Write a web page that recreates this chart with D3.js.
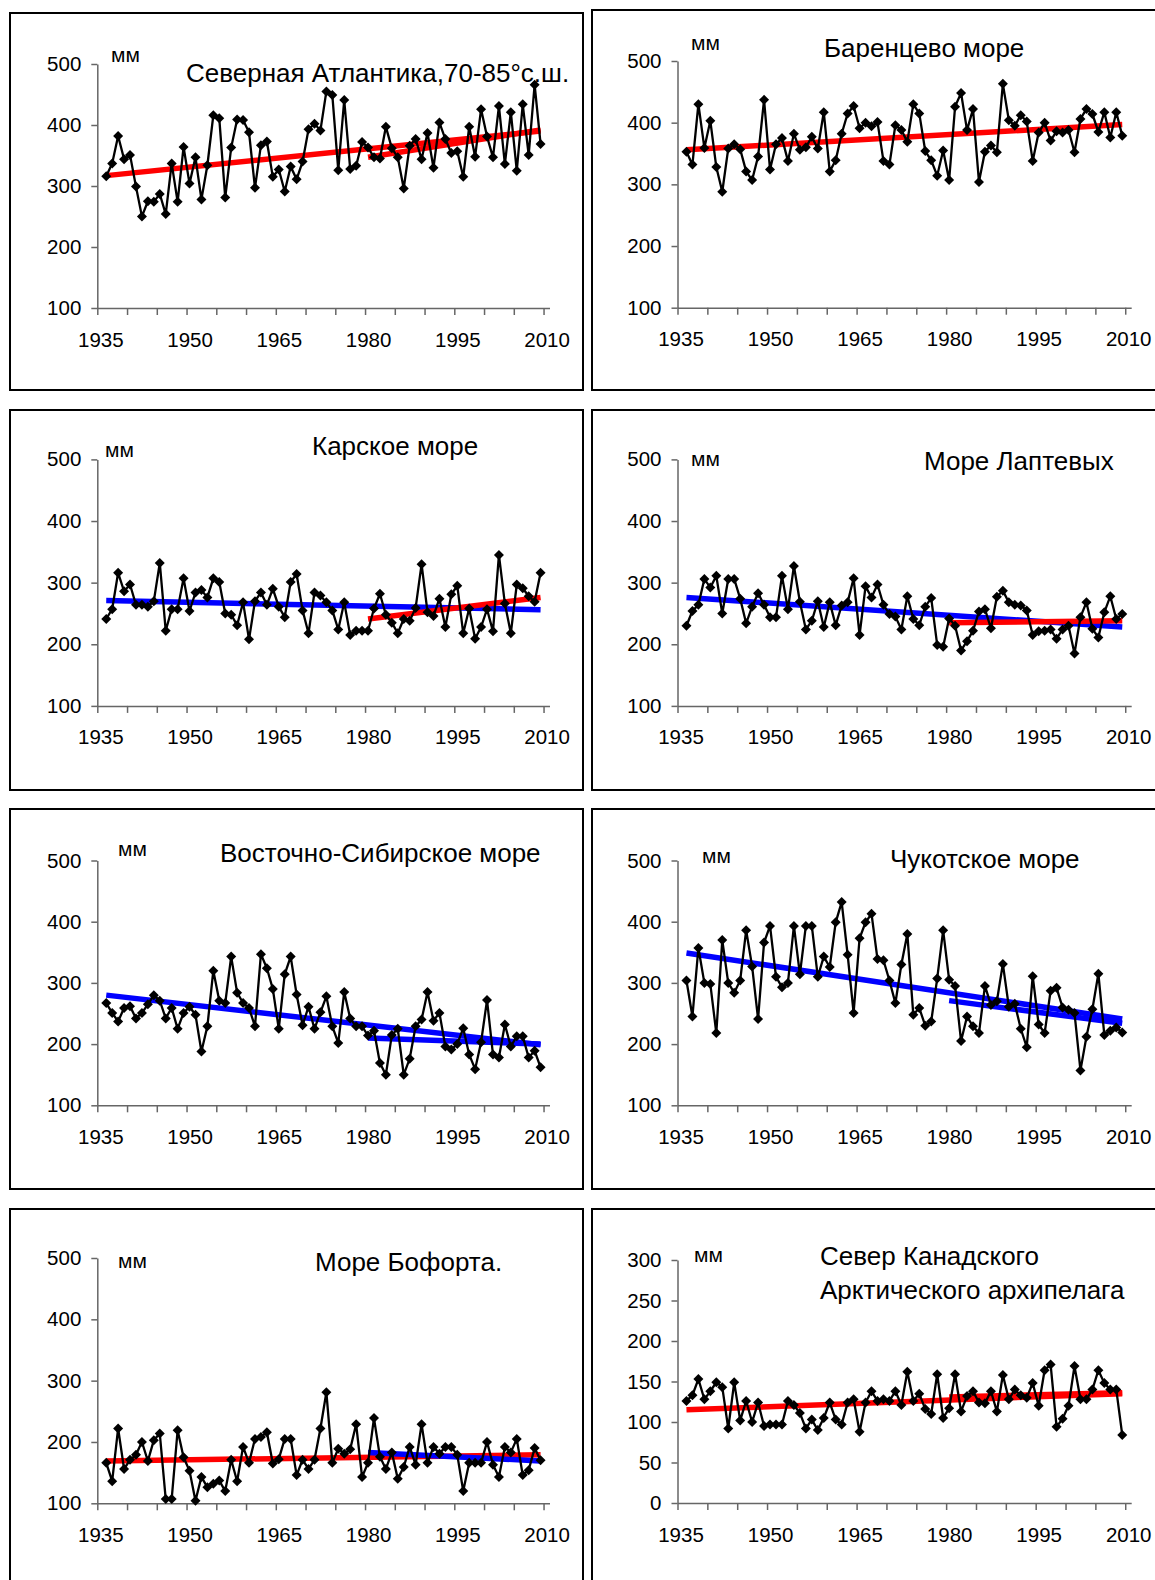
<!DOCTYPE html>
<html>
<head>
<meta charset="utf-8">
<script src="https://cdn.jsdelivr.net/npm/d3@7"></script>
<style>
  body { margin: 0; background: #fff; }
  svg { display: block; font-family: "Liberation Sans", Arial, sans-serif; }
</style>
</head>
<body>
<svg id="chart"></svg>
<script>
const width = 1155;
const height = 1580;

// categories
const years = d3.range(1936, 2010);
const yearLabels = [1935, 1950, 1965, 1980, 1995, 2010];

// series values, mm
const northAtlantic = [316,337,382,344,351,299,250,275,274,287,254,337,274,364,304,347,278,334,416,411,
  281,363,409,408,388,297,367,373,315,327,291,332,311,340,393,402,391,455,449,326,
  441,328,333,372,363,347,345,397,362,347,296,366,377,344,387,330,404,377,354,357,
  315,397,348,426,381,347,431,336,421,325,434,351,466,369];
const barents = [353,332,430,359,403,328,288,358,365,357,321,307,345,437,324,365,375,338,382,356,
  360,377,358,417,321,339,382,415,427,391,400,394,401,338,332,396,388,369,430,415,
  354,339,314,355,307,426,448,388,422,304,353,363,352,463,404,395,412,402,338,384,
  400,371,386,384,388,352,406,422,414,385,417,376,417,379];
const kara = [241,257,316,286,297,264,264,261,270,332,222,257,257,307,254,284,288,276,307,301,
  250,248,231,268,208,270,284,264,290,261,244,301,314,255,218,284,279,268,255,224,
  268,215,222,222,222,258,282,248,235,218,241,238,259,330,252,246,274,228,281,295,
  218,258,209,228,257,221,345,266,218,297,291,278,269,316];
const laptev = [230,254,264,306,292,311,250,306,306,274,234,261,283,264,244,244,311,257,327,269,
  224,238,270,228,268,231,263,268,307,215,294,276,297,264,249,245,224,278,241,231,
  261,275,199,196,242,230,190,205,222,253,257,226,277,287,268,264,263,255,215,221,
  222,224,209,224,230,185,244,268,225,211,252,278,241,249];
const eastSiberian = [267,251,237,259,262,242,251,265,280,271,242,259,225,251,261,248,188,229,320,271,
  267,343,284,267,259,229,347,324,290,225,314,343,281,231,261,225,252,278,229,202,
  285,242,229,229,214,222,169,150,215,225,150,176,229,240,285,238,251,196,191,200,
  226,183,159,203,272,183,178,232,196,213,213,178,189,162];
const chukchi = [304,245,357,300,298,218,370,300,284,304,386,327,241,366,393,310,293,300,393,314,
  393,393,310,343,326,399,432,346,251,373,399,413,339,337,304,267,330,380,248,259,
  230,237,307,386,305,295,205,245,229,218,295,264,270,331,261,266,225,195,311,232,
  218,287,292,260,256,251,157,212,257,315,215,222,227,219];
const beaufort = [166,136,222,156,171,179,200,169,203,214,107,107,219,175,153,104,143,126,132,137,
  120,171,136,192,166,205,208,216,165,172,205,205,146,171,156,171,222,281,166,189,
  181,188,229,143,166,239,176,156,183,140,159,192,163,229,166,192,181,192,192,179,
  120,166,166,166,200,163,143,192,183,205,146,154,190,170];
const canadian = [126,133,153,128,138,149,143,92,149,102,126,100,124,95,97,97,97,126,121,111,
  92,103,90,105,124,103,97,124,128,88,124,138,126,128,126,138,121,162,126,135,
  116,110,159,105,117,159,113,132,138,124,123,138,113,158,128,140,133,130,148,120,
  164,171,94,104,120,169,128,128,140,164,148,140,140,84];

// linear trends: [start year, start value, end year, end value]
const trendNorthAtlantic = [[1936, 317, 2009, 390], [1980, 347, 2009, 392]];
const trendBarents = [[1936, 356, 2009, 397]];
const trendKara = [[1936, 271, 2009, 256], [1980, 241, 2009, 276]];
const trendLaptev = [[1936, 276, 2009, 228], [1980, 235, 2009, 238]];
const trendEastSiberian = [[1936, 280, 2009, 199], [1980, 210, 2009, 200]];
const trendChukchi = [[1936, 349, 2009, 241], [1980, 271, 2009, 234]];
const trendBeaufort = [[1936, 169, 2009, 179], [1980, 183, 2009, 169]];
const trendCanadian = [[1936, 115, 2009, 135], [1980, 131, 2009, 136]];

const titles = [
  ["Северная Атлантика,70-85°с.ш."],
  ["Баренцево море"],
  ["Карское море"],
  ["Море Лаптевых"],
  ["Восточно-Сибирское море"],
  ["Чукотское море"],
  ["Море Бофорта."],
  ["Север Канадского", "Арктического архипелага"]
];
const unitLabel = "мм";

// layout of the eight panels
const L = { x0: 97.3, x1: 549.5, fx0: 10, fx1: 583 };
const R = { x0: 677.5, x1: 1131.2, fx0: 592, fx1: 1170 };
const panels = [
  { col: L, values: northAtlantic, trends: trendNorthAtlantic, yDomain: [100, 500], yStep: 100,
    yTop: 64, yBottom: 308, fy0: 13, fy1: 390, tx: 186, ty: [82], mx: 111, my: 62 },
  { col: R, values: barents, trends: trendBarents, yDomain: [100, 500], yStep: 100,
    yTop: 61, yBottom: 307.7, fy0: 10, fy1: 390, tx: 824, ty: [57], mx: 691, my: 50 },
  { col: L, values: kara, trends: trendKara, yDomain: [100, 500], yStep: 100,
    yTop: 459.4, yBottom: 705.9, fy0: 410, fy1: 790, tx: 312, ty: [455], mx: 105, my: 457 },
  { col: R, values: laptev, trends: trendLaptev, yDomain: [100, 500], yStep: 100,
    yTop: 459.4, yBottom: 705.9, fy0: 410, fy1: 790, tx: 924, ty: [470], mx: 691, my: 466 },
  { col: L, values: eastSiberian, trends: trendEastSiberian, yDomain: [100, 500], yStep: 100,
    yTop: 860.5, yBottom: 1105.3, fy0: 809, fy1: 1189, tx: 220, ty: [862], mx: 118, my: 856 },
  { col: R, values: chukchi, trends: trendChukchi, yDomain: [100, 500], yStep: 100,
    yTop: 860.5, yBottom: 1105.3, fy0: 809, fy1: 1189, tx: 890, ty: [868], mx: 702, my: 863 },
  { col: L, values: beaufort, trends: trendBeaufort, yDomain: [100, 500], yStep: 100,
    yTop: 1258, yBottom: 1503.3, fy0: 1209, fy1: 1600, tx: 315, ty: [1271], mx: 118, my: 1268 },
  { col: R, values: canadian, trends: trendCanadian, yDomain: [0, 300], yStep: 50,
    yTop: 1260, yBottom: 1503, fy0: 1209, fy1: 1600, tx: 820, ty: [1265, 1299], mx: 694, my: 1262 }
];

const svg = d3.select('#chart')
  .attr('width', width)
  .attr('height', height)
  .attr('viewBox', `0 0 ${width} ${height}`);

svg.append('rect').attr('width', width).attr('height', height).attr('fill', '#fff');

panels.forEach((p, i) => drawPanel(p, titles[i]));

function drawPanel(p, title) {
  const g = svg.append('g');
  const x = d3.scaleLinear().domain([1934.5, 2010.5]).range([p.col.x0, p.col.x1]);
  const y = d3.scaleLinear().domain(p.yDomain).range([p.yBottom, p.yTop]);

  g.append('rect')
    .attr('x', p.col.fx0).attr('y', p.fy0)
    .attr('width', p.col.fx1 - p.col.fx0).attr('height', p.fy1 - p.fy0)
    .attr('fill', 'none').attr('stroke', '#000').attr('stroke-width', 2);

  // y axis
  g.append('g')
    .attr('transform', `translate(${p.col.x0},0)`)
    .call(d3.axisLeft(y)
      .tickValues(d3.range(p.yDomain[0], p.yDomain[1] + 1, p.yStep))
      .tickSize(6).tickSizeOuter(0).tickPadding(10))
    .call(styleAxis);

  // x axis: ticks on category boundaries every 5 years
  g.append('g')
    .attr('transform', `translate(0,${p.yBottom})`)
    .call(d3.axisBottom(x)
      .tickValues(d3.range(1934.5, 2010, 5))
      .tickSize(7).tickSizeOuter(0).tickFormat(''))
    .call(styleAxis);

  // x labels centred on categories
  g.append('g')
    .attr('transform', `translate(0,${p.yBottom})`)
    .call(d3.axisBottom(x)
      .tickValues(yearLabels)
      .tickSize(0).tickPadding(24).tickFormat(d3.format('d')))
    .call(styleAxis)
    .call(a => a.select('.domain').remove());

  // trend lines, red if rising, blue if falling
  g.selectAll('.trend')
    .data(p.trends)
    .enter().append('line')
    .attr('class', 'trend')
    .attr('x1', d => x(d[0])).attr('y1', d => y(d[1]))
    .attr('x2', d => x(d[2])).attr('y2', d => y(d[3]))
    .attr('stroke', d => d[3] > d[1] ? '#ff0000' : '#0000ff')
    .attr('stroke-width', 5.5);

  // observed series
  const line = d3.line()
    .x((d, i) => x(years[i]))
    .y(d => y(d));
  g.append('path')
    .datum(p.values)
    .attr('d', line)
    .attr('fill', 'none')
    .attr('stroke', '#000')
    .attr('stroke-width', 2.3);

  const diamond = d3.symbol().type(d3.symbolSquare).size(50);
  g.selectAll('.pt')
    .data(p.values)
    .enter().append('path')
    .attr('class', 'pt')
    .attr('d', diamond)
    .attr('transform', (d, i) => `translate(${x(years[i])},${y(d)}) rotate(45)`)
    .attr('fill', '#000');

  // title and unit
  const t = g.append('text')
    .attr('x', p.tx)
    .attr('font-size', 26)
    .attr('fill', '#000');
  t.selectAll('tspan')
    .data(title)
    .enter().append('tspan')
    .attr('x', p.tx)
    .attr('y', (d, i) => p.ty[i])
    .text(d => d);

  g.append('text')
    .attr('x', p.mx).attr('y', p.my)
    .attr('font-size', 21)
    .attr('fill', '#000')
    .text(unitLabel);
}

function styleAxis(a) {
  a.attr('font-size', 20.5)
    .attr('font-family', '"Liberation Sans", Arial, sans-serif');
  a.selectAll('.domain, .tick line').attr('stroke', '#666').attr('stroke-width', 1.5);
  a.selectAll('text').attr('fill', '#000');
}
</script>
</body>
</html>
